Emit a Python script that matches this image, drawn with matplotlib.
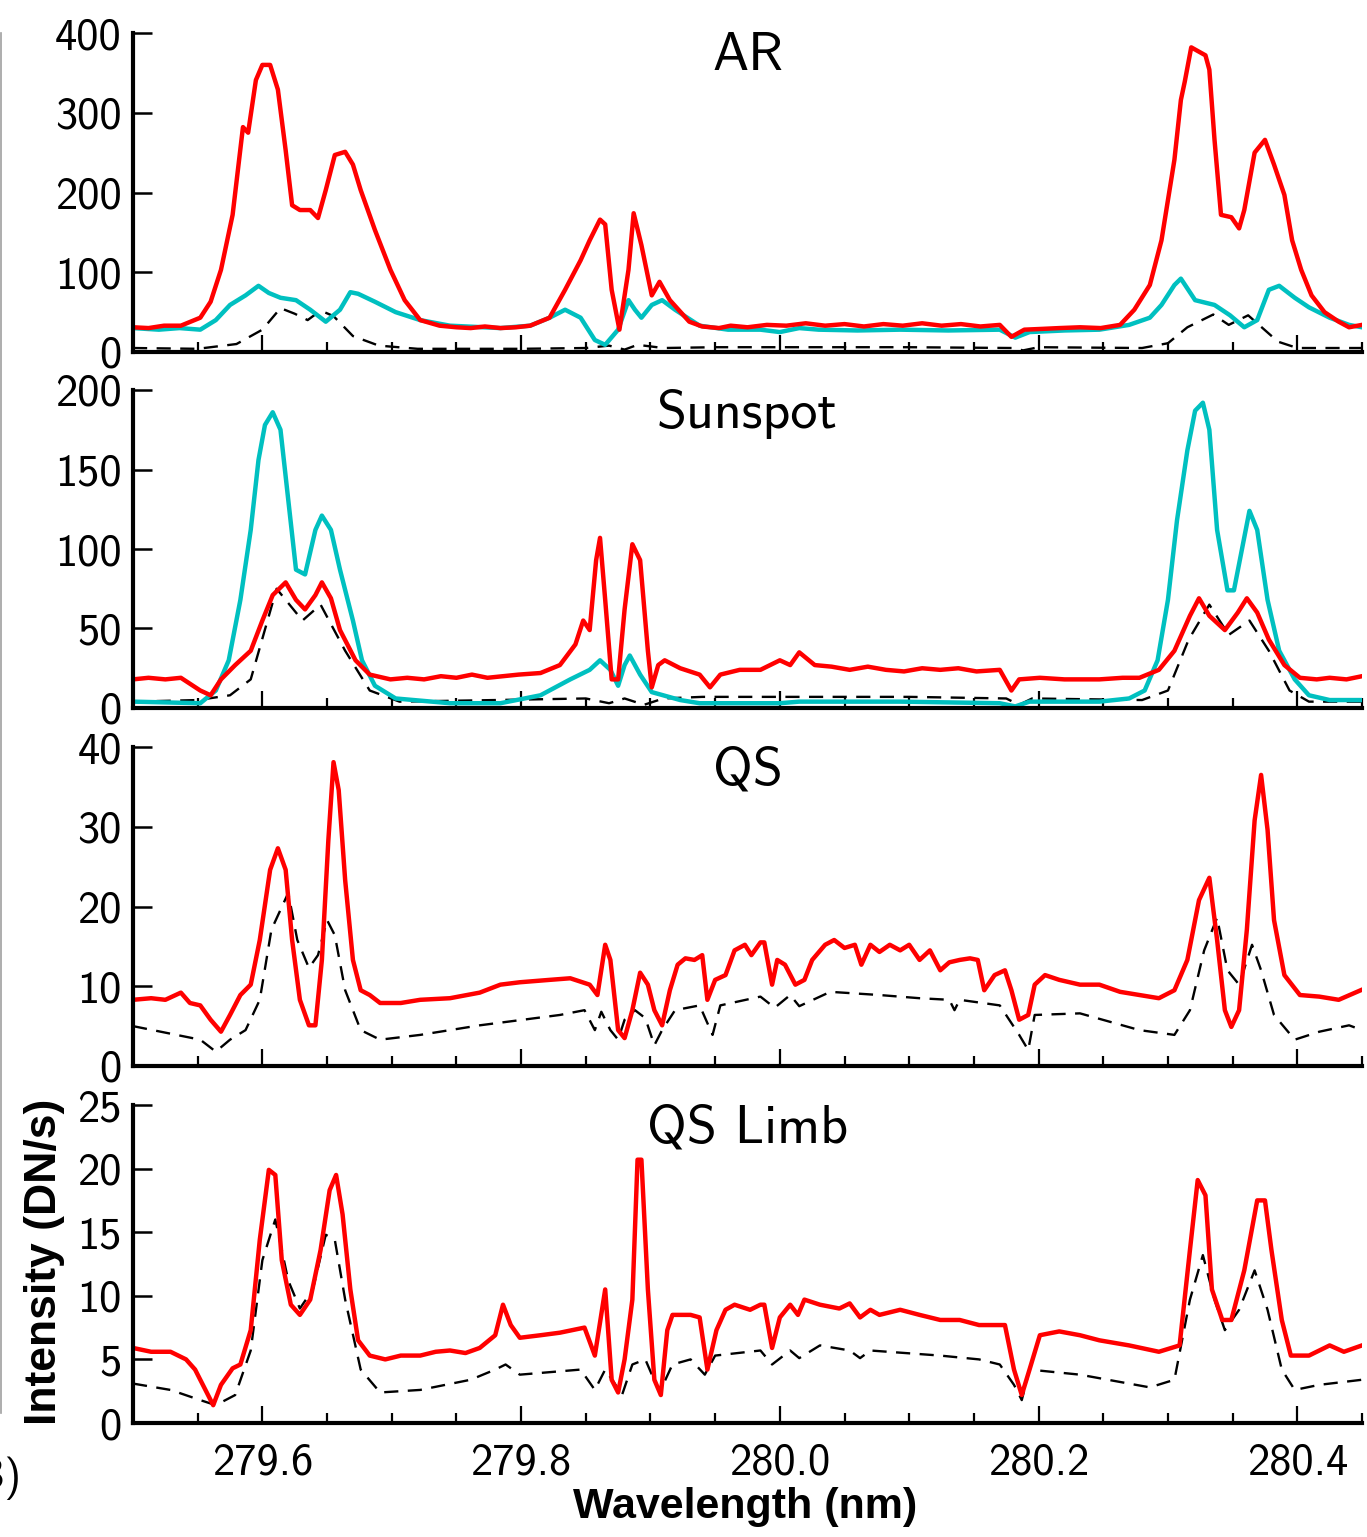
import numpy as np
import matplotlib
matplotlib.use('Agg')
import matplotlib.pyplot as plt
from matplotlib.ticker import MultipleLocator
from matplotlib.lines import Line2D

# ---- AR ----
ar_red_wl = [279.500, 279.512, 279.524, 279.537, 279.552, 279.560, 279.568, 279.577, 279.585, 279.589,
             279.595, 279.600, 279.606, 279.612, 279.618, 279.623, 279.629, 279.637, 279.643, 279.649,
             279.656, 279.664, 279.670, 279.676, 279.687, 279.699, 279.710, 279.722, 279.737, 279.750,
             279.761, 279.772, 279.784, 279.796, 279.807, 279.822, 279.834, 279.846, 279.853, 279.861,
             279.865, 279.870, 279.876, 279.883, 279.887, 279.893, 279.901, 279.907, 279.915, 279.930,
             279.940, 279.953, 279.962, 279.975, 279.990, 280.005, 280.020, 280.035, 280.050, 280.065,
             280.080, 280.095, 280.110, 280.125, 280.140, 280.155, 280.170, 280.179, 280.189, 280.203,
             280.216, 280.232, 280.248, 280.263, 280.274, 280.286, 280.295, 280.305, 280.310, 280.313,
             280.318, 280.329, 280.332, 280.336, 280.341, 280.349, 280.355, 280.359, 280.367, 280.375,
             280.382, 280.390, 280.396, 280.403, 280.411, 280.421, 280.432, 280.440, 280.450]
ar_red = [31, 30, 33, 33, 43, 63, 103, 172, 282, 275,
          341, 360, 360, 329, 253, 184, 178, 178, 168, 203,
          247, 251, 235, 203, 153, 103, 65, 40, 33, 31,
          30, 32, 30, 31, 33, 43, 78, 115, 140, 166,
          160, 78, 28, 103, 174, 134, 71, 88, 65, 38,
          32, 30, 33, 31, 34, 33, 36, 33, 35, 32,
          35, 33, 36, 33, 35, 32, 34, 19, 28, 29,
          30, 31, 30, 34, 53, 84, 140, 241, 316, 339,
          382, 372, 354, 266, 172, 169, 155, 178, 250, 266,
          235, 197, 140, 103, 71, 50, 38, 31, 34]

ar_cyan_wl = [279.500, 279.520, 279.536, 279.552, 279.564, 279.575, 279.587, 279.597, 279.605, 279.614,
              279.626, 279.637, 279.649, 279.660, 279.668, 279.674, 279.687, 279.703, 279.722, 279.745,
              279.784, 279.807, 279.822, 279.834, 279.846, 279.857, 279.865, 279.875, 279.883, 279.888,
              279.893, 279.901, 279.909, 279.919, 279.938, 279.960, 279.985, 280.000, 280.015, 280.030,
              280.060, 280.093, 280.130, 280.170, 280.182, 280.193, 280.220, 280.247, 280.270, 280.286,
              280.295, 280.305, 280.310, 280.321, 280.336, 280.348, 280.359, 280.369, 280.378, 280.386,
              280.398, 280.409, 280.425, 280.440, 280.450]
ar_cyan = [30, 28, 30, 28, 40, 59, 71, 83, 74, 68,
           65, 53, 38, 53, 75, 73, 63, 50, 40, 33,
           30, 33, 43, 53, 43, 15, 9, 28, 65, 53,
           43, 59, 65, 53, 33, 28, 28, 25, 30, 28,
           27, 28, 27, 28, 18, 25, 27, 28, 34, 43,
           59, 84, 92, 65, 59, 46, 31, 40, 78, 83,
           68, 56, 43, 34, 31]

ar_ref_wl = [279.500, 279.550, 279.580, 279.600, 279.614, 279.625, 279.635, 279.645, 279.655, 279.670,
             279.690, 279.720, 279.800, 279.850, 279.868, 279.880, 279.890, 279.910, 279.950, 280.000,
             280.100, 280.180, 280.188, 280.200, 280.280, 280.300, 280.315, 280.335, 280.347, 280.362,
             280.385, 280.400, 280.450]
ar_ref = [5, 4, 10, 28, 55, 48, 40, 52, 45, 20,
          8, 4, 4, 5, 8, 3, 9, 5, 6, 6,
          6, 5, 2, 6, 5, 11, 31, 47, 34, 46,
          13, 5, 5]

# ---- Sunspot ----
ss_cyan_wl = [279.500, 279.552, 279.564, 279.574, 279.583, 279.591, 279.597, 279.602, 279.608, 279.614,
              279.620, 279.626, 279.633, 279.641, 279.646, 279.653, 279.660, 279.670, 279.677, 279.687,
              279.703, 279.745, 279.784, 279.815, 279.838, 279.853, 279.861, 279.869, 279.875, 279.880,
              279.884, 279.892, 279.901, 279.923, 279.938, 280.000, 280.015, 280.093, 280.170, 280.182,
              280.193, 280.247, 280.270, 280.282, 280.292, 280.300, 280.307, 280.315, 280.321, 280.327,
              280.332, 280.338, 280.346, 280.351, 280.357, 280.363, 280.369, 280.377, 280.386, 280.398,
              280.409, 280.425, 280.450]
ss_cyan = [4, 3, 11, 30, 68, 112, 156, 178, 186, 175,
           131, 87, 84, 112, 121, 112, 87, 55, 30, 14,
           6, 3, 3, 8, 18, 24, 30, 24, 14, 27,
           33, 21, 10, 5, 3, 3, 4, 4, 3, 1,
           4, 4, 6, 11, 30, 68, 118, 162, 187, 192,
           175, 112, 74, 74, 99, 124, 112, 68, 36, 18,
           8, 5, 5]

ss_red_wl = [279.500, 279.512, 279.525, 279.537, 279.552, 279.560, 279.568, 279.579, 279.591, 279.600,
             279.608, 279.618, 279.626, 279.633, 279.641, 279.646, 279.653, 279.660, 279.672, 279.683,
             279.699, 279.712, 279.725, 279.738, 279.750, 279.762, 279.774, 279.786, 279.798, 279.815,
             279.830, 279.842, 279.848, 279.853, 279.858, 279.861, 279.865, 279.870, 279.875, 279.880,
             279.886, 279.892, 279.898, 279.901, 279.906, 279.911, 279.923, 279.938, 279.946, 279.954,
             279.969, 279.985, 280.000, 280.008, 280.015, 280.027, 280.040, 280.054, 280.068, 280.082,
             280.096, 280.110, 280.124, 280.138, 280.152, 280.170, 280.179, 280.185, 280.201, 280.220,
             280.247, 280.265, 280.278, 280.293, 280.305, 280.317, 280.324, 280.332, 280.344, 280.354,
             280.361, 280.369, 280.378, 280.390, 280.402, 280.415, 280.425, 280.438, 280.450]
ss_red = [18, 19, 18, 19, 11, 8, 18, 27, 36, 55,
          71, 79, 68, 62, 71, 79, 69, 49, 30, 21,
          18, 19, 18, 20, 19, 21, 19, 20, 21, 22,
          27, 40, 55, 49, 93, 107, 68, 18, 18, 62,
          103, 93, 36, 13, 27, 30, 25, 21, 13, 21,
          24, 24, 30, 27, 35, 27, 26, 24, 26, 24,
          23, 25, 24, 25, 23, 24, 11, 18, 19, 18,
          18, 19, 19, 24, 36, 58, 69, 58, 49, 60,
          69, 60, 43, 27, 19, 18, 19, 18, 20]

ss_ref_wl = [279.500, 279.550, 279.575, 279.591, 279.611, 279.631, 279.645, 279.664, 279.683, 279.706,
             279.780, 279.850, 279.868, 279.880, 279.895, 279.910, 279.940, 280.000, 280.100, 280.175,
             280.185, 280.195, 280.280, 280.300, 280.316, 280.332, 280.347, 280.363, 280.378, 280.394,
             280.409, 280.450]
ss_ref = [4, 5, 8, 18, 75, 55, 65, 36, 11, 4,
          5, 6, 3, 6, 2, 6, 7, 7, 7, 6,
          2, 6, 5, 11, 43, 65, 46, 55, 36, 11,
          4, 4]

# ---- QS ----
qs_red_wl = [279.500, 279.514, 279.525, 279.537, 279.544, 279.552, 279.560, 279.568, 279.575, 279.583,
             279.591, 279.598, 279.606, 279.612, 279.618, 279.623, 279.629, 279.636, 279.641, 279.646,
             279.651, 279.655, 279.659, 279.664, 279.670, 279.676, 279.683, 279.691, 279.707, 279.722,
             279.745, 279.768, 279.784, 279.799, 279.822, 279.838, 279.853, 279.859, 279.865, 279.869,
             279.875, 279.880, 279.886, 279.892, 279.898, 279.903, 279.909, 279.915, 279.921, 279.927,
             279.934, 279.940, 279.944, 279.950, 279.958, 279.965, 279.973, 279.978, 279.985, 279.988,
             279.994, 279.998, 280.004, 280.012, 280.019, 280.025, 280.035, 280.042, 280.050, 280.058,
             280.063, 280.070, 280.077, 280.085, 280.093, 280.100, 280.108, 280.116, 280.124, 280.131,
             280.139, 280.147, 280.153, 280.158, 280.166, 280.174, 280.179, 280.185, 280.192, 280.197,
             280.205, 280.216, 280.232, 280.247, 280.263, 280.278, 280.293, 280.305, 280.315, 280.324,
             280.332, 280.338, 280.344, 280.349, 280.355, 280.361, 280.367, 280.372, 280.377, 280.382,
             280.390, 280.402, 280.417, 280.432, 280.449]
qs_red = [8.3, 8.5, 8.3, 9.2, 7.9, 7.6, 5.8, 4.3, 6.4, 8.9,
          10.2, 15.8, 24.6, 27.3, 24.6, 15.8, 8.3, 5.1, 5.1, 13.3,
          28.3, 38.1, 34.6, 23.3, 13.3, 9.5, 8.9, 7.9, 7.9, 8.3,
          8.5, 9.2, 10.2, 10.5, 10.8, 11.0, 10.2, 8.9, 15.2, 13.3,
          4.5, 3.5, 7.0, 11.7, 10.2, 7.0, 5.1, 9.5, 12.7, 13.5,
          13.3, 13.9, 8.3, 10.8, 11.4, 14.5, 15.2, 13.9, 15.5, 15.5,
          10.2, 13.3, 12.7, 10.2, 10.8, 13.3, 15.2, 15.8, 14.8, 15.2,
          12.7, 15.2, 14.3, 15.2, 14.5, 15.2, 13.3, 14.5, 12.0, 13.0,
          13.3, 13.5, 13.3, 9.5, 11.4, 12.0, 9.5, 5.8, 6.4, 10.2,
          11.4, 10.8, 10.2, 10.2, 9.3, 8.9, 8.5, 9.5, 13.3, 20.8,
          23.6, 15.8, 7.0, 4.9, 7.0, 17.1, 30.8, 36.5, 29.6, 18.3,
          11.4, 8.9, 8.7, 8.3, 9.5]

qs_ref_wl = [279.500, 279.552, 279.564, 279.575, 279.587, 279.598, 279.607, 279.620, 279.627, 279.636,
             279.643, 279.650, 279.656, 279.664, 279.676, 279.691, 279.722, 279.768, 279.830, 279.849,
             279.857, 279.862, 279.869, 279.875, 279.880, 279.888, 279.896, 279.903, 279.909, 279.919,
             279.938, 279.948, 279.954, 279.985, 279.996, 280.008, 280.015, 280.039, 280.077, 280.108,
             280.131, 280.135, 280.139, 280.170, 280.185, 280.192, 280.197, 280.232, 280.278, 280.305,
             280.317, 280.328, 280.338, 280.346, 280.355, 280.365, 280.372, 280.382, 280.398, 280.417,
             280.440, 280.450]
qs_ref = [5.0, 3.3, 1.8, 3.3, 4.5, 8.3, 17.1, 21.7, 15.8, 12.3,
          13.9, 18.3, 16.4, 9.5, 4.5, 3.3, 3.9, 5.1, 6.4, 7.0,
          4.5, 6.8, 4.5, 3.3, 5.8, 7.0, 6.0, 2.6, 4.5, 7.0,
          7.6, 3.9, 7.6, 8.7, 7.3, 8.9, 7.5, 9.3, 8.9, 8.5,
          8.3, 7.0, 8.3, 7.6, 3.9, 2.0, 6.4, 6.6, 4.5, 3.9,
          7.0, 14.5, 18.6, 12.0, 10.2, 15.2, 12.0, 6.4, 3.3, 4.3,
          5.1, 4.5]

# ---- QS Limb ----
limb_red_wl = [279.500, 279.514, 279.529, 279.541, 279.548, 279.556, 279.562, 279.568, 279.577, 279.583,
               279.591, 279.598, 279.605, 279.610, 279.615, 279.622, 279.629, 279.637, 279.645, 279.652,
               279.657, 279.662, 279.668, 279.674, 279.683, 279.695, 279.707, 279.722, 279.734, 279.745,
               279.757, 279.768, 279.780, 279.786, 279.792, 279.799, 279.815, 279.830, 279.849, 279.857,
               279.865, 279.870, 279.875, 279.880, 279.886, 279.890, 279.893, 279.898, 279.903, 279.908,
               279.913, 279.917, 279.931, 279.938, 279.944, 279.951, 279.958, 279.965, 279.977, 279.985,
               279.988, 279.994, 280.000, 280.008, 280.014, 280.019, 280.031, 280.046, 280.054, 280.062,
               280.070, 280.077, 280.093, 280.108, 280.124, 280.139, 280.154, 280.166, 280.174, 280.181,
               280.187, 280.193, 280.201, 280.216, 280.232, 280.247, 280.270, 280.293, 280.309, 280.317,
               280.323, 280.329, 280.334, 280.342, 280.349, 280.359, 280.369, 280.375, 280.380, 280.388,
               280.395, 280.409, 280.425, 280.436, 280.450]
limb_red = [5.9, 5.6, 5.6, 5.0, 4.2, 2.6, 1.4, 3.0, 4.3, 4.6,
            7.3, 14.4, 19.9, 19.5, 12.8, 9.3, 8.5, 9.7, 13.6, 18.3,
            19.5, 16.4, 10.5, 6.5, 5.3, 5.0, 5.3, 5.3, 5.6, 5.7,
            5.5, 5.9, 6.9, 9.3, 7.7, 6.7, 6.9, 7.1, 7.5, 5.3,
            10.5, 3.4, 2.4, 5.0, 9.7, 20.7, 20.7, 10.5, 3.4, 2.2,
            7.3, 8.5, 8.5, 8.3, 4.2, 7.3, 8.9, 9.3, 8.9, 9.3,
            9.3, 5.9, 8.3, 9.3, 8.5, 9.7, 9.3, 9.0, 9.4, 8.3,
            8.9, 8.5, 8.9, 8.5, 8.1, 8.1, 7.7, 7.7, 7.7, 4.2,
            2.2, 4.2, 6.9, 7.2, 6.9, 6.5, 6.1, 5.6, 6.1, 13.6,
            19.1, 17.9, 10.5, 8.1, 8.1, 12.0, 17.5, 17.5, 13.6, 8.1,
            5.3, 5.3, 6.1, 5.6, 6.1]

limb_ref_wl = [279.500, 279.529, 279.552, 279.564, 279.579, 279.591, 279.600, 279.610, 279.620, 279.629,
               279.639, 279.649, 279.656, 279.664, 279.676, 279.691, 279.722, 279.761, 279.780, 279.788,
               279.799, 279.846, 279.857, 279.865, 279.873, 279.878, 279.886, 279.896, 279.907, 279.917,
               279.931, 279.942, 279.950, 279.985, 279.994, 280.008, 280.015, 280.031, 280.054, 280.062,
               280.070, 280.124, 280.154, 280.170, 280.181, 280.187, 280.193, 280.232, 280.286, 280.305,
               280.317, 280.327, 280.336, 280.344, 280.355, 280.367, 280.377, 280.388, 280.398, 280.417,
               280.450]
limb_ref = [3.1, 2.6, 1.8, 1.4, 2.2, 5.7, 12.8, 16.0, 11.2, 9.0,
            10.5, 14.8, 14.4, 9.7, 4.2, 2.4, 2.6, 3.4, 4.2, 4.6,
            3.8, 4.2, 2.6, 4.2, 3.0, 2.2, 4.6, 5.0, 2.4, 4.6,
            5.0, 3.8, 5.3, 5.7, 4.6, 5.7, 5.1, 6.1, 5.7, 5.1,
            5.7, 5.3, 5.0, 4.6, 3.0, 1.8, 4.2, 3.8, 2.8, 3.4,
            9.7, 13.2, 9.7, 7.3, 8.9, 12.0, 8.9, 4.2, 2.6, 3.0,
            3.4]

titles = ['AR', 'Sunspot', 'QS', 'QS Limb']
ymax = [400, 200, 40, 25]
ystep = [100, 50, 10, 5]

panels = [
    [(ar_ref_wl, ar_ref, 'ref'), (ar_cyan_wl, ar_cyan, 'cyan'), (ar_red_wl, ar_red, 'red')],
    [(ss_ref_wl, ss_ref, 'ref'), (ss_cyan_wl, ss_cyan, 'cyan'), (ss_red_wl, ss_red, 'red')],
    [(qs_ref_wl, qs_ref, 'ref'), (qs_red_wl, qs_red, 'red')],
    [(limb_ref_wl, limb_ref, 'ref'), (limb_red_wl, limb_red, 'red')],
]

styles = {
    'red': dict(color='#ff0000', lw=3.2, ls='-'),
    'cyan': dict(color='#00c0c0', lw=3.2, ls='-'),
    'ref': dict(color='black', lw=1.7, ls=(0, (6, 4))),
}

W, H = 1367, 1537
fig = plt.figure(figsize=(W / 100, H / 100), dpi=100)
tick_font = 'cmss10'

left = 133 / W
width = (1362 - 133) / W
tops = [33, 390, 747, 1105]
bottoms = [352, 708, 1066, 1423]

for i in range(4):
    ax = fig.add_axes([left, 1 - bottoms[i] / H, width, (bottoms[i] - tops[i]) / H])
    for wl, val, kind in panels[i]:
        ax.plot(wl, val, solid_joinstyle='round', **styles[kind])
    ax.set_xlim(279.5, 280.45)
    ax.set_ylim(0, ymax[i])
    ax.yaxis.set_major_locator(MultipleLocator(ystep[i]))
    ax.xaxis.set_major_locator(MultipleLocator(0.2))
    ax.xaxis.set_minor_locator(MultipleLocator(0.05))
    for s in ['top', 'right']:
        ax.spines[s].set_visible(False)
    for s in ['left', 'bottom']:
        ax.spines[s].set_linewidth(3)
    ax.tick_params(axis='y', which='major', direction='in', length=14, width=1.8,
                   labelsize=32, pad=8)
    ax.tick_params(axis='x', which='major', direction='in', length=12, width=1.6,
                   labelsize=32, pad=14)
    ax.tick_params(axis='x', which='minor', direction='in', length=7, width=1.6)
    for lab in ax.get_xticklabels() + ax.get_yticklabels():
        lab.set_fontfamily(tick_font)
    if i < 3:
        ax.set_xticklabels([])
    else:
        ax.set_xticks([279.6, 279.8, 280.0, 280.2, 280.4])
        ax.set_xticklabels(['279.6', '279.8', '280.0', '280.2', '280.4'], fontfamily=tick_font)
    ax.text(0.5, 0.925, titles[i], transform=ax.transAxes, ha='center', va='center',
            fontsize=39, fontfamily=tick_font)

fig.text(45 / W, 1 - 1262 / H, 'Intensity (DN/s)', rotation=90, ha='center', va='center',
         fontsize=32, fontweight='bold', fontfamily='Liberation Sans')
fig.text(745 / W, 1 - 1507 / H, 'Wavelength (nm)', ha='center', va='center',
         fontsize=31, fontweight='bold', fontfamily='Liberation Sans')

# edge of the neighbouring panel and its label
fig.add_artist(Line2D([1.2 / W, 1.2 / W], [1 - 33 / H, 1 - 1413 / H], color='#a0a0a0', lw=1.2))
fig.text(22 / W, 1 - 1478 / H, '(3)', ha='right', va='center', fontsize=31, fontfamily=tick_font)

fig.savefig('out.png', dpi=100)
